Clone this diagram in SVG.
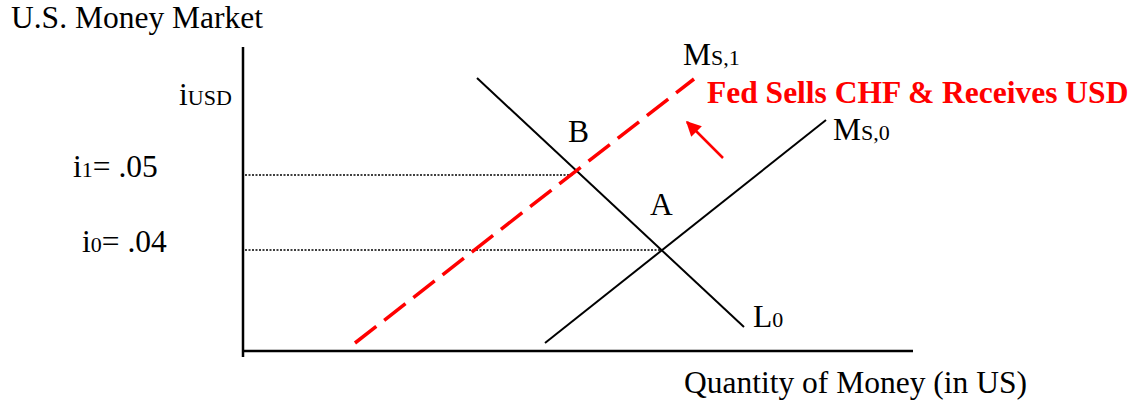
<svg xmlns="http://www.w3.org/2000/svg" width="1131" height="404" viewBox="0 0 1131 404">
<defs>
<style>
.t{font-family:"Liberation Serif","Times New Roman","DejaVu Serif",serif;fill:#000;font-size:31.5px}
.s{font-size:22px}
.r{fill:#ff0000;font-weight:bold}
.ax{stroke:#000;stroke-width:2.5;fill:none}
.ln{stroke:#000;stroke-width:2;fill:none}
.dot{stroke:#000;stroke-width:1.5;stroke-dasharray:2 1.5;fill:none}
.red{stroke:#ff0000;stroke-width:3.5;stroke-dasharray:27 10;fill:none}
</style>
<marker id="ah" viewBox="0 0 10 10" refX="9" refY="5" markerWidth="6" markerHeight="6" orient="auto" markerUnits="strokeWidth">
<path d="M0,0 L10,5 L0,10 z" fill="#ff0000"/>
</marker>
</defs>
<rect width="1131" height="404" fill="#fff"/>
<g id="axes">
<line class="ax" x1="243" y1="47" x2="243" y2="357"/>
<line class="ax" x1="243" y1="351" x2="913" y2="351"/>
</g>
<g id="connectors">
<line class="dot" x1="245" y1="175" x2="574" y2="175"/>
<line class="dot" x1="245" y1="250" x2="661" y2="250"/>
<line id="L0-line" class="ln" x1="477" y1="78" x2="744" y2="327"/>
<line id="Ms0-line" class="ln" x1="545" y1="343" x2="826" y2="120"/>
<line id="Ms1-line" class="red" x1="355" y1="343" x2="694" y2="79"/>
<line id="shift-arrow" stroke="#ff0000" stroke-width="2.5" x1="723" y1="158" x2="687" y2="122" marker-end="url(#ah)"/>
</g>
<g id="title"><text class="t" x="11" y="28">U.S. Money Market</text></g>
<g id="y-label"><text class="t" x="179" y="105">i<tspan class="s">USD</tspan></text></g>
<g id="i1"><text class="t" x="73" y="177">i<tspan class="s">1</tspan>= .05</text></g>
<g id="i0"><text class="t" x="82" y="252">i<tspan class="s">0</tspan>= .04</text></g>
<g id="Ms1"><text class="t" x="683" y="65">M<tspan class="s">S,1</tspan></text></g>
<g id="Ms0"><text class="t" x="833" y="140">M<tspan class="s">S,0</tspan></text></g>
<g id="L0"><text class="t" x="753" y="327">L<tspan class="s">0</tspan></text></g>
<g id="B"><text class="t" x="568" y="142">B</text></g>
<g id="A"><text class="t" x="650" y="215">A</text></g>
<g id="fed"><text class="t r" x="707" y="103">Fed Sells CHF &amp; Receives USD</text></g>
<g id="x-label"><text class="t" x="684" y="393">Quantity of Money (in US)</text></g>
</svg>
